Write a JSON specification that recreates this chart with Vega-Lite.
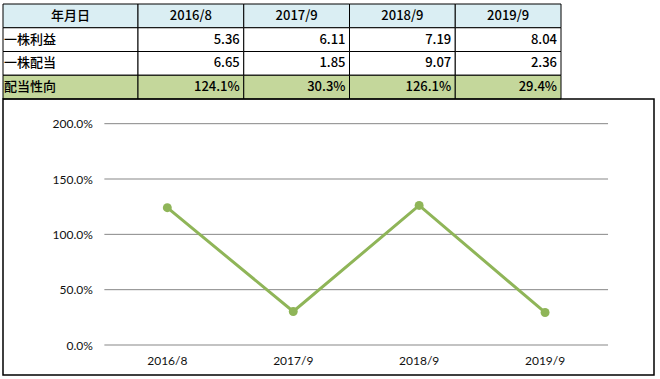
{
  "$schema": "https://vega.github.io/schema/vega-lite/v6.json",
  "padding": {"left": 2, "top": 3, "right": 0, "bottom": 0},
  "background": "white",
  "config": {"view": {"stroke": null}},
  "datasets": {
    "labels": [
      {"row": "年月日", "col": "項目", "text": "年月日"},
      {"row": "一株利益", "col": "項目", "text": "一株利益"},
      {"row": "一株配当", "col": "項目", "text": "一株配当"},
      {"row": "配当性向", "col": "項目", "text": "配当性向"}
    ],
    "cells": [
      {"row": "年月日", "col": "2016/8", "text": "2016/8"},
      {"row": "年月日", "col": "2017/9", "text": "2017/9"},
      {"row": "年月日", "col": "2018/9", "text": "2018/9"},
      {"row": "年月日", "col": "2019/9", "text": "2019/9"},
      {"row": "一株利益", "col": "2016/8", "text": "5.36"},
      {"row": "一株利益", "col": "2017/9", "text": "6.11"},
      {"row": "一株利益", "col": "2018/9", "text": "7.19"},
      {"row": "一株利益", "col": "2019/9", "text": "8.04"},
      {"row": "一株配当", "col": "2016/8", "text": "6.65"},
      {"row": "一株配当", "col": "2017/9", "text": "1.85"},
      {"row": "一株配当", "col": "2018/9", "text": "9.07"},
      {"row": "一株配当", "col": "2019/9", "text": "2.36"},
      {"row": "配当性向", "col": "2016/8", "text": "124.1%"},
      {"row": "配当性向", "col": "2017/9", "text": "30.3%"},
      {"row": "配当性向", "col": "2018/9", "text": "126.1%"},
      {"row": "配当性向", "col": "2019/9", "text": "29.4%"}
    ],
    "ratio": [
      {"date": "2016/8", "ratio": 1.241},
      {"date": "2017/9", "ratio": 0.303},
      {"date": "2018/9", "ratio": 1.261},
      {"date": "2019/9", "ratio": 0.294}
    ],
    "grid": [
      {"ratio": 0}, {"ratio": 0.5}, {"ratio": 1}, {"ratio": 1.5}, {"ratio": 2}
    ]
  },
  "spacing": 0,
  "bounds": "flush",
  "vconcat": [
    {
      "width": 558,
      "height": 95,
      "encoding": {
        "y": {"field": "row", "type": "ordinal", "sort": ["年月日", "一株利益", "一株配当", "配当性向"], "scale": {"paddingInner": 0, "paddingOuter": 0}, "axis": null}
      },
      "resolve": {"scale": {"x": "independent"}, "axis": {"x": "independent"}},
      "layer": [
        {
          "data": {"name": "labels"},
          "encoding": {
            "x": {"field": "col", "type": "nominal", "scale": {"paddingInner": 0, "paddingOuter": 0, "range": [0, 135]}, "axis": null}
          },
          "layer": [
            {
              "mark": {"type": "rect", "stroke": "#000000", "strokeWidth": 1},
              "encoding": {"fill": {"field": "row", "type": "nominal", "scale": {"domain": ["年月日", "一株利益", "一株配当", "配当性向"], "range": ["#DAEEF3", "#FFFFFF", "#FFFFFF", "#C4D79B"]}, "legend": null}}
            },
            {
              "transform": [{"filter": "datum.row === '年月日'"}],
              "mark": {"type": "text", "align": "center", "baseline": "middle", "font": "Noto Sans CJK JP", "fontSize": 13, "fontWeight": 500, "color": "#000000"},
              "encoding": {"text": {"field": "text"}}
            },
            {
              "transform": [{"filter": "datum.row !== '年月日'"}],
              "mark": {"type": "text", "align": "left", "baseline": "middle", "dx": 1, "font": "Noto Sans CJK JP", "fontSize": 13, "fontWeight": 500, "color": "#000000"},
              "encoding": {"text": {"field": "text"}, "x": {"field": "col", "type": "nominal", "bandPosition": 0}}
            }
          ]
        },
        {
          "data": {"name": "cells"},
          "encoding": {
            "x": {"field": "col", "type": "ordinal", "sort": ["2016/8", "2017/9", "2018/9", "2019/9"], "scale": {"paddingInner": 0, "paddingOuter": 0, "range": [135, 558]}, "axis": null}
          },
          "layer": [
            {
              "mark": {"type": "rect", "stroke": "#000000", "strokeWidth": 1},
              "encoding": {"fill": {"field": "row", "type": "nominal", "scale": {"domain": ["年月日", "一株利益", "一株配当", "配当性向"], "range": ["#DAEEF3", "#FFFFFF", "#FFFFFF", "#C4D79B"]}, "legend": null}}
            },
            {
              "transform": [{"filter": "datum.row === '年月日'"}],
              "mark": {"type": "text", "align": "center", "baseline": "middle", "font": "Noto Sans CJK JP", "fontSize": 13, "fontWeight": 500, "color": "#000000"},
              "encoding": {"text": {"field": "text"}}
            },
            {
              "transform": [{"filter": "datum.row !== '年月日'"}],
              "mark": {"type": "text", "align": "right", "baseline": "middle", "dx": -4, "font": "Noto Sans CJK JP", "fontSize": 13, "fontWeight": 500, "color": "#000000"},
              "encoding": {"text": {"field": "text"}, "x": {"field": "col", "type": "ordinal", "sort": ["2016/8", "2017/9", "2018/9", "2019/9"], "bandPosition": 1}}
            }
          ]
        }
      ]
    },
    {
      "width": 651,
      "height": 276,
      "view": {"stroke": "#000000", "strokeWidth": 1.5},
      "encoding": {
        "x": {
          "field": "date", "type": "ordinal", "sort": ["2016/8", "2017/9", "2018/9", "2019/9"],
          "scale": {"paddingInner": 0, "paddingOuter": 0.585, "align": 0.688},
          "axis": {"orient": "bottom", "offset": -30, "domain": false, "ticks": false, "tickSize": 0, "labelPadding": 10, "labelAngle": 0, "labelFont": "Lato", "labelFontSize": 12, "labelColor": "#111111", "title": null, "grid": false}
        },
        "y": {
          "field": "ratio", "type": "quantitative",
          "scale": {"domain": [-0.271, 2.223], "nice": false, "zero": false},
          "axis": {"orient": "left", "offset": -101.3, "values": [0, 0.5, 1, 1.5, 2], "format": ".1%", "domain": false, "ticks": false, "tickSize": 0, "labelPadding": 12, "grid": false, "title": null, "labelFont": "Lato", "labelFontSize": 12, "labelColor": "#111111"}
        }
      },
      "layer": [
        {
          "data": {"name": "grid"},
          "mark": {"type": "rule", "color": "#878787", "strokeWidth": 1},
          "encoding": {
            "x": {"datum": "2016/8", "type": "ordinal", "bandPosition": 0},
            "x2": {"datum": "2019/9", "bandPosition": 1}
          }
        },
        {
          "data": {"name": "ratio"},
          "mark": {"type": "line", "color": "#8FB558", "strokeWidth": 3, "point": {"filled": true, "size": 80, "color": "#8FB558", "opacity": 1}}
        }
      ]
    }
  ]
}
